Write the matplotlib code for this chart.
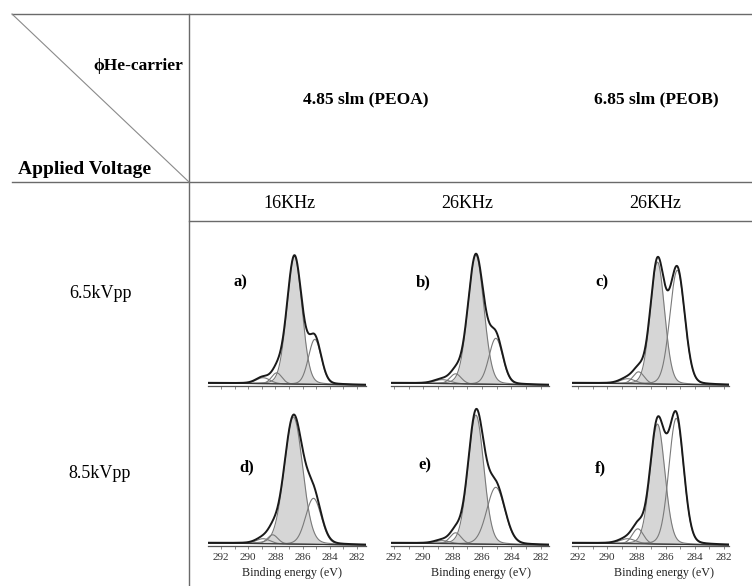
import numpy as np
import matplotlib
matplotlib.use("Agg")
import matplotlib.pyplot as plt
from matplotlib.ticker import MultipleLocator

# Table text
col_groups = ["4.85 slm (PEOA)", "6.85 slm (PEOB)"]
frequencies = ["16KHz", "26KHz", "26KHz"]
voltages = ["6.5kVpp", "8.5kVpp"]
panel_labels = ["a)", "b)", "c)", "d)", "e)", "f)"]

# C1s fit components (position eV, height, FWHM eV)
main_pos = [286.60, 286.42, 286.56, 286.67, 286.42, 286.56]
main_height = [128, 129, 122, 127, 129, 120]
main_fwhm = [1.30, 1.28, 1.15, 1.60, 1.27, 1.20]

second_pos = [285.10, 285.06, 285.20, 285.20, 285.06, 285.27]
second_height = [45, 46, 114, 46, 57, 126]
second_fwhm = [1.10, 1.10, 1.20, 1.35, 1.45, 1.20]

small1_pos = [287.90, 287.80, 287.85, 288.20, 287.80, 287.90]
small1_height = [11, 10, 12, 9, 11, 15]
small1_fwhm = [0.90, 0.90, 0.90, 0.90, 0.90, 0.90]

small2_pos = [288.90, 288.70, 288.60, 288.90, 288.70, 288.60]
small2_height = [6, 4, 5, 5, 3, 5]
small2_fwhm = [1.20, 1.30, 1.20, 1.20, 1.20, 1.30]

# background level at the high and low energy ends
bg_left = [3.0, 3.0, 3.0, 3.0, 3.0, 3.0]
bg_right = [1.0, 1.0, 1.0, 1.0, 1.0, 1.0]

x_left = [292.95, 292.20, 292.41, 292.95, 292.20, 292.41]
x_right = [281.34, 281.44, 281.66, 281.34, 281.44, 281.66]


def peak(x, pos, height, fwhm, mix=0.1):
    g = np.exp(-4 * np.log(2) * (x - pos) ** 2 / fwhm ** 2)
    l = 1 / (1 + 4 * (x - pos) ** 2 / fwhm ** 2)
    return height * ((1 - mix) * g + mix * l)


W, H = 752, 586
fig = plt.figure(figsize=(W / 100, H / 100), dpi=100)

# full-figure axes in pixel units for the table frame and text
tab = fig.add_axes([0, 0, 1, 1])
tab.set_xlim(0, W)
tab.set_ylim(H, 0)
tab.axis("off")

line_kw = dict(color="#6a6a6a", lw=1.0)
tab.plot([12, W], [14, 14], **line_kw)
tab.plot([12, W], [182, 182], **line_kw)
tab.plot([189, W], [221, 221], **line_kw)
tab.plot([189, 189], [14, H], **line_kw)
tab.plot([12, 189], [14, 182], color="#8a8a8a", lw=0.8)

serif = ["Liberation Serif", "DejaVu Serif"]
tab.text(183, 66, "ϕHe-carrier", ha="right", va="center",
         fontsize=12.5, fontweight="bold", family=serif)
tab.text(18, 170, "Applied Voltage", ha="left", va="center",
         fontsize=14, fontweight="bold", family=serif)
tab.text(366, 99, col_groups[0], ha="center", va="center",
         fontsize=12.5, fontweight="bold", family=serif)
tab.text(656, 99, col_groups[1], ha="center", va="center",
         fontsize=12.5, fontweight="bold", family=serif)

freq_x = [289, 467, 655]
for fx, f in zip(freq_x, frequencies):
    tab.text(fx, 203, f, ha="center", va="center", fontsize=13, family=serif)

volt_y = [294, 473]
for vy, v in zip(volt_y, voltages):
    tab.text(100, vy, v, ha="center", va="center", fontsize=13, family=serif)

# panel boxes in pixels: left, right, baseline
panel_left = [208, 391, 572, 208, 391, 572]
panel_right = [366, 549, 729, 366, 549, 729]
panel_base = [386, 386, 386, 546, 546, 546]
label_xy = [(240, 282), (423, 282), (602, 282), (247, 467), (425, 465), (600, 468)]
xlabel_x = [292, 481, 664]
top_px = 145
ymax = 145

for i in range(6):
    l, r, b = panel_left[i], panel_right[i], panel_base[i]
    ax = fig.add_axes([l / W, 1 - b / H, (r - l) / W, top_px / H])
    x = np.linspace(x_left[i], x_right[i], 800)
    bg = np.interp(x, [x_right[i], x_left[i]], [bg_right[i], bg_left[i]])

    comps = [
        peak(x, main_pos[i], main_height[i], main_fwhm[i]),
        peak(x, second_pos[i], second_height[i], second_fwhm[i]),
        peak(x, small1_pos[i], small1_height[i], small1_fwhm[i]),
        peak(x, small2_pos[i], small2_height[i], small2_fwhm[i]),
    ]
    ax.fill_between(x, bg, bg + comps[0], color="#d6d6d6", lw=0)
    for c in comps:
        ax.plot(x, bg + c, color="#7a7a7a", lw=0.8)
    ax.plot(x, bg, color="#333333", lw=0.8)
    ax.plot(x, bg + sum(comps), color="#1a1a1a", lw=1.4)

    ax.set_xlim(x_left[i], x_right[i])
    ax.set_ylim(0, ymax)
    for s in ["left", "right", "top"]:
        ax.spines[s].set_visible(False)
    ax.spines["bottom"].set_color("#555555")
    ax.spines["bottom"].set_linewidth(0.9)
    ax.set_yticks([])
    ax.patch.set_alpha(0)
    ax.xaxis.set_major_locator(MultipleLocator(2))
    ax.xaxis.set_minor_locator(MultipleLocator(1))
    ax.tick_params(axis="x", which="both", length=2, width=0.6,
                   color="#777777", pad=3)
    if i < 3:
        ax.tick_params(axis="x", labelbottom=False)
    else:
        ax.set_xticks(np.arange(292, 281, -2))
        ax.set_xticklabels([str(v) for v in range(292, 281, -2)],
                           fontsize=8, family=serif, color="#333333")
        tab.text(xlabel_x[i - 3], 573, "Binding energy (eV)", ha="center",
                 va="center", fontsize=8.7, family=serif, color="#222222")

    tab.text(label_xy[i][0], label_xy[i][1], panel_labels[i], ha="center",
             va="center", fontsize=12, fontweight="bold", family=serif)

fig.savefig("out.png", dpi=100)
